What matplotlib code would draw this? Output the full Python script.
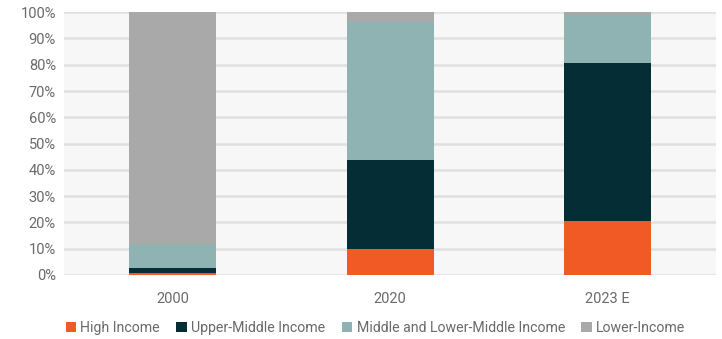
import numpy as np
import matplotlib.pyplot as plt
from matplotlib import font_manager

# data (percent of total)
years = ['2000', '2020', '2023 E']
high = [0.6, 9.9, 20.6]
upper_mid = [1.9, 33.9, 60.2]
mid_lower = [9.2, 52.4, 18.1]
lower = [88.3, 3.8, 1.1]

names = ['High Income', 'Upper-Middle Income', 'Middle and Lower-Middle Income', 'Lower-Income']
colors = ['#f15a24', '#042d36', '#8eb3b2', '#a9a9a9']

fams = [f.name for f in font_manager.fontManager.ttflist]
if 'Liberation Sans Narrow' in fams:
    plt.rcParams['font.family'] = ['Liberation Sans Narrow', 'DejaVu Sans']
else:
    plt.rcParams['font.family'] = ['Roboto', 'DejaVu Sans']

fig = plt.figure(figsize=(7.22, 3.39), dpi=100)
ax = fig.add_axes([0.089, 0.189, 0.903, 0.775])
ax.set_facecolor('#f7f7f7')

x = np.arange(len(years))
bottom = np.zeros(len(years))
for vals, name, c in zip([high, upper_mid, mid_lower, lower], names, colors):
    ax.bar(x, vals, 0.4, bottom=bottom, color=c, label=name, zorder=3)
    bottom += np.array(vals)

ax.set_ylim(0, 100)
ax.set_xlim(-0.5, 2.5)
ax.set_yticks(np.arange(0, 101, 10))
ax.set_yticklabels([f'{v}%' for v in range(0, 101, 10)])
ax.set_xticks(x)
ax.set_xticklabels(years)
ax.yaxis.grid(True, color='#e0e0e0', linewidth=1.8, zorder=0)
ax.tick_params(length=0, labelsize=10.5, colors='#6a6a6a', pad=6)
ax.tick_params(axis='x', pad=12)
for s in ax.spines.values():
    s.set_visible(False)

fig.legend(loc='lower center', bbox_to_anchor=(0.52, -0.025), ncol=4, frameon=False,
           handlelength=0.75, handleheight=0.75, handletextpad=0.3, columnspacing=1.15,
           fontsize=10.2, labelcolor='#6a6a6a')

fig.savefig('out.png', dpi=100)
